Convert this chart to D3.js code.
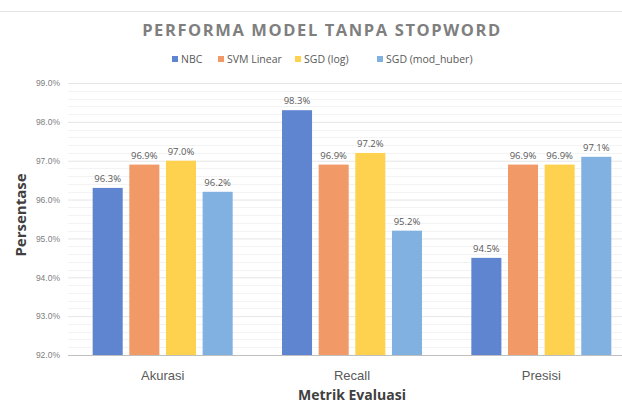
<!DOCTYPE html>
<html>
<head>
<meta charset="utf-8">
<script src="https://cdn.jsdelivr.net/npm/d3@7"></script>
<style>
  body { margin: 0; background: #fff; }
  svg { display: block; font-family: "Open Sans", "Noto Sans", sans-serif; }
</style>
</head>
<body>
<svg width="622" height="405"></svg>
<script>
var categories = ['Akurasi', 'Recall', 'Presisi'];
var series = ['NBC', 'SVM Linear', 'SGD (log)', 'SGD (mod_huber)'];
var nbc = [96.3, 98.3, 94.5];
var svmLinear = [96.9, 96.9, 96.9];
var sgdLog = [97.0, 97.2, 96.9];
var sgdHuber = [96.2, 95.2, 97.1];
var yTicks = [92, 93, 94, 95, 96, 97, 98, 99];
var colors = ['#5f85d1', '#f19a68', '#fed24f', '#80b1e1'];

var allValues = [nbc, svmLinear, sgdLog, sgdHuber];

var svg = d3.select('svg');

var plotLeft = 68, plotRight = 636, plotTop = 83, plotBottom = 355;

var y = d3.scaleLinear().domain([92, 99]).range([plotBottom, plotTop]);
var x0 = d3.scaleBand().domain(categories).range([plotLeft, plotRight]);
var groupW = 140;
var x1 = d3.scaleBand().domain(series)
    .range([(x0.bandwidth() - groupW) / 2, (x0.bandwidth() + groupW) / 2])
    .paddingInner(0.18);

// top border line
svg.append('line')
    .attr('x1', 0).attr('x2', 622)
    .attr('y1', 11.5).attr('y2', 11.5)
    .attr('stroke', '#e4e4e4');

// minor gridlines
var minor = d3.range(92.2, 99, 0.2).filter(function(v){
    return Math.abs(v - Math.round(v)) > 0.05;
});
svg.append('g').selectAll('line')
    .data(minor)
    .enter()
    .append('line')
    .attr('x1', plotLeft).attr('x2', 622)
    .attr('y1', function(d){ return Math.round(y(d)) + 0.5; })
    .attr('y2', function(d){ return Math.round(y(d)) + 0.5; })
    .attr('stroke', '#f3f3f3');

// major gridlines + y axis
var yAxis = d3.axisLeft(y)
    .tickValues(yTicks)
    .tickSize(-(622 - plotLeft))
    .tickPadding(8)
    .tickFormat(function(d){ return d.toFixed(1) + '%'; });

var gy = svg.append('g')
    .attr('transform', 'translate(' + plotLeft + ',0)')
    .call(yAxis);
gy.select('.domain').remove();
gy.selectAll('.tick line').attr('stroke', '#e6e6e6');
gy.selectAll('.tick text')
    .attr('fill', '#808080')
    .style('font-size', '8.5px');

// bars
var groups = svg.append('g').selectAll('g')
    .data(categories)
    .enter()
    .append('g')
    .attr('transform', function(d){ return 'translate(' + x0(d) + ',0)'; });

groups.selectAll('rect')
    .data(function(d, i){
        return series.map(function(s, j){ return {s: s, v: allValues[j][i], j: j}; });
    })
    .enter()
    .append('rect')
    .attr('x', function(d){ return x1(d.s); })
    .attr('width', x1.bandwidth())
    .attr('y', function(d){ return y(d.v); })
    .attr('height', function(d){ return plotBottom - y(d.v); })
    .attr('fill', function(d){ return colors[d.j]; });

groups.selectAll('text')
    .data(function(d, i){
        return series.map(function(s, j){ return {s: s, v: allValues[j][i], j: j}; });
    })
    .enter()
    .append('text')
    .attr('x', function(d){ return x1(d.s) + x1.bandwidth() / 2; })
    .attr('y', function(d){ return y(d.v) - 6; })
    .attr('text-anchor', 'middle')
    .attr('fill', '#595959')
    .style('font-size', '9.5px')
    .text(function(d){ return d.v.toFixed(1) + '%'; });

// x axis
var xAxis = d3.axisBottom(x0).tickSize(0).tickPadding(16);
var gx = svg.append('g')
    .attr('transform', 'translate(0,' + plotBottom + ')')
    .call(xAxis);
gx.select('.domain').attr('stroke', '#bfbfbf').attr('d', 'M' + plotLeft + ',0.5H622');
gx.selectAll('.tick text')
    .attr('fill', '#595959')
    .style('font-size', '13px');

// title
svg.append('text')
    .attr('x', 322).attr('y', 36)
    .attr('text-anchor', 'middle')
    .attr('fill', '#7f7f7f')
    .style('font-size', '16.5px')
    .style('font-weight', 'bold')
    .style('letter-spacing', '1.6px')
    .text('PERFORMA MODEL TANPA STOPWORD');

// legend
var legendX = [172, 218, 295, 377];
var legend = svg.append('g').selectAll('g')
    .data(series)
    .enter()
    .append('g')
    .attr('transform', function(d, i){ return 'translate(' + legendX[i] + ',60)'; });
legend.append('rect')
    .attr('x', 0).attr('y', -4)
    .attr('width', 6).attr('height', 6)
    .attr('fill', function(d, i){ return colors[i]; });
legend.append('text')
    .attr('x', 9).attr('y', 2.5)
    .attr('fill', '#595959')
    .style('font-size', '10.5px')
    .text(function(d){ return d; });

// axis titles
svg.append('text')
    .attr('transform', 'translate(26,' + ((plotTop + plotBottom) / 2 - 4) + ') rotate(-90)')
    .attr('text-anchor', 'middle')
    .attr('fill', '#404040')
    .style('font-size', '15px')
    .style('font-weight', 'bold')
    .text('Persentase');

svg.append('text')
    .attr('x', (plotLeft + plotRight) / 2).attr('y', 400)
    .attr('text-anchor', 'middle')
    .attr('fill', '#404040')
    .style('font-size', '14px')
    .style('font-weight', 'bold')
    .text('Metrik Evaluasi');
</script>
</body>
</html>
